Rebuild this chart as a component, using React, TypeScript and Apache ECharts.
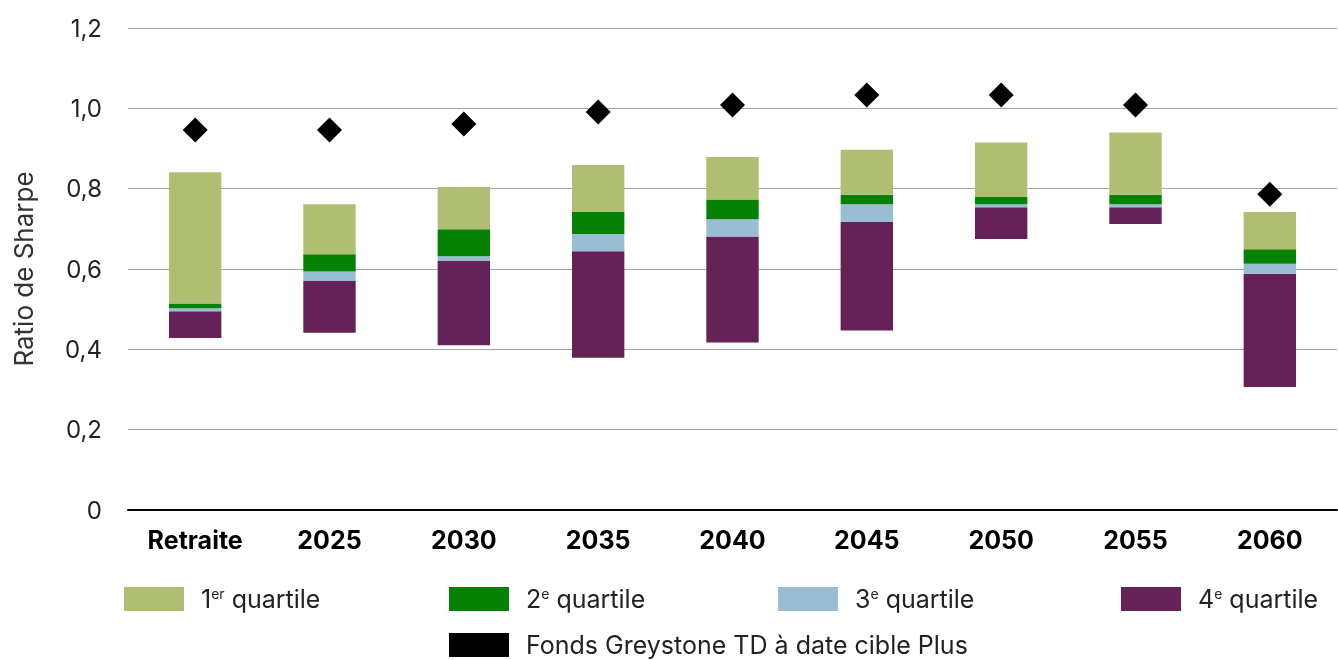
import React, { useEffect, useRef } from "react";
import * as echarts from "echarts";

const categories = ["Retraite", "2025", "2030", "2035", "2040", "2045", "2050", "2055", "2060"];
// Bottom of each bar (minimum)
const minimum = [0.428, 0.441, 0.41, 0.379, 0.417, 0.447, 0.675, 0.712, 0.306];
// Upper bound of 4th quartile
const q4Top = [0.495, 0.57, 0.62, 0.644, 0.681, 0.717, 0.754, 0.754, 0.588];
// Upper bound of 3rd quartile (median)
const q3Top = [0.502, 0.594, 0.632, 0.687, 0.724, 0.761, 0.761, 0.761, 0.613];
// Upper bound of 2nd quartile
const q2Top = [0.514, 0.637, 0.699, 0.742, 0.773, 0.785, 0.779, 0.785, 0.649];
// Top of each bar (maximum, 1st quartile upper bound)
const maximum = [0.841, 0.761, 0.804, 0.859, 0.879, 0.897, 0.915, 0.94, 0.742];
// Fonds Greystone TD à date cible Plus
const fund = [0.946, 0.946, 0.961, 0.991, 1.008, 1.033, 1.033, 1.008, 0.786];

const yTicks = { min: 0, max: 1.2, interval: 0.2 };

const NAMES = {
  q1: "1er quartile",
  q2: "2e quartile",
  q3: "3e quartile",
  q4: "4e quartile",
  fund: "Fonds Greystone TD à date cible Plus",
};
const RICH_NAMES: Record<string, string> = {
  [NAMES.q1]: "1{sup|er} quartile",
  [NAMES.q2]: "2{sup|e} quartile",
  [NAMES.q3]: "3{sup|e} quartile",
  [NAMES.q4]: "4{sup|e} quartile",
  [NAMES.fund]: NAMES.fund,
};

const COLORS = {
  q1: "#b0be74",
  q2: "#058205",
  q3: "#99bed4",
  q4: "#642256",
  fund: "#000000",
};

const FONT = "Inter, 'Noto Sans', sans-serif";

function diff(a: number[], b: number[]) {
  return a.map((v, i) => +(v - b[i]).toFixed(4));
}

export default function App() {
  const ref = useRef<HTMLDivElement>(null);
  useEffect(() => {
    if (!ref.current) return;
    const chart = echarts.init(ref.current, undefined, { renderer: "svg" });
    const legendText = {
      fontFamily: FONT,
      fontSize: 25,
      lineHeight: 26,
      color: "#222",
      padding: [0, 0, 0, 12],
      rich: {
        sup: { fontSize: 14, fontFamily: FONT, color: "#222", padding: [0, 0, 12, 0] },
      },
    };
    const mkLegend = (name: string, left: number, top: number) => ({
      show: true,
      data: [name],
      left,
      top,
      orient: "horizontal",
      itemWidth: 60,
      itemHeight: 24,
      padding: 0,
      icon: "rect",
      formatter: (n: string) => RICH_NAMES[n] || n,
      textStyle: legendText,
      selectedMode: false,
    });
    const barCommon = {
      type: "bar",
      stack: "range",
      barWidth: "39%",
      emphasis: { disabled: true },
    };
    chart.setOption({
      animation: false,
      grid: { left: 128, right: 1, top: 28, bottom: 150, containLabel: false },
      legend: [
        mkLegend(NAMES.q1, 124, 586),
        mkLegend(NAMES.q2, 449, 586),
        mkLegend(NAMES.q3, 778, 586),
        mkLegend(NAMES.q4, 1121, 586),
        mkLegend(NAMES.fund, 449, 632),
      ],
      xAxis: {
        type: "category",
        data: categories,
        axisLine: { lineStyle: { color: "#000", width: 2 } },
        axisTick: { show: false },
        axisLabel: {
          fontFamily: FONT,
          fontSize: 25,
          fontWeight: "bold",
          color: "#000",
          margin: 17,
        },
      },
      yAxis: {
        type: "value",
        min: yTicks.min,
        max: yTicks.max,
        interval: yTicks.interval,
        name: "Ratio de Sharpe",
        nameLocation: "middle",
        nameGap: 92,
        nameTextStyle: { fontFamily: FONT, fontSize: 26, color: "#333" },
        axisLine: { show: false },
        axisTick: { show: false },
        splitLine: { lineStyle: { color: "#a6a6a6", width: 1 } },
        axisLabel: {
          fontFamily: FONT,
          fontSize: 24,
          color: "#222",
          margin: 26,
          formatter: (v: number) => (v === 0 ? "0" : v.toFixed(1).replace(".", ",")),
        },
      },
      series: [
        {
          ...barCommon,
          name: "base",
          data: minimum,
          itemStyle: { color: "transparent" },
          silent: true,
        },
        { ...barCommon, name: NAMES.q4, data: diff(q4Top, minimum), itemStyle: { color: COLORS.q4 } },
        { ...barCommon, name: NAMES.q3, data: diff(q3Top, q4Top), itemStyle: { color: COLORS.q3 } },
        { ...barCommon, name: NAMES.q2, data: diff(q2Top, q3Top), itemStyle: { color: COLORS.q2 } },
        { ...barCommon, name: NAMES.q1, data: diff(maximum, q2Top), itemStyle: { color: COLORS.q1 } },
        {
          type: "scatter",
          name: NAMES.fund,
          data: fund,
          symbol: "diamond",
          symbolSize: [25, 25],
          itemStyle: { color: COLORS.fund, opacity: 1 },
          emphasis: { disabled: true },
        },
      ],
    });
    return () => chart.dispose();
  }, []);
  return (
    <div
      ref={ref}
      style={{ position: "fixed", left: 0, top: 0, width: 1338, height: 660 }}
    />
  );
}
